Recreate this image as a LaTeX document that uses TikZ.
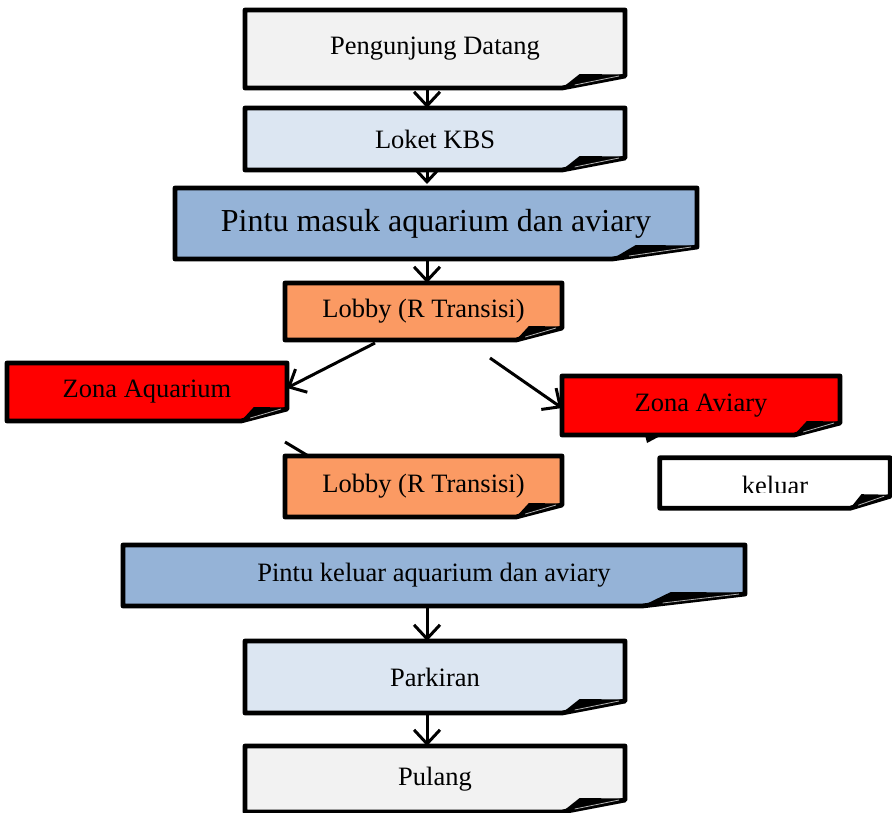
\documentclass[tikz,border=0pt]{standalone}
\usepackage{fontspec}
\setmainfont{Liberation Serif}
\usetikzlibrary{arrows.meta,backgrounds}
\definecolor{cgray}{HTML}{F2F2F2}
\definecolor{clblue}{HTML}{DCE6F2}
\definecolor{cmblue}{HTML}{95B3D7}
\definecolor{corange}{HTML}{FB9A63}
\definecolor{cred}{HTML}{FF0000}
\tikzset{
  nb/.style={inner sep=0pt, outer sep=0pt, font=\fontsize{26.5}{30}\selectfont},
  outl/.style={draw=black, line width=4.8pt, line join=round},
  flow/.style={draw=black, line width=3pt, -{Straight Barb[length=14pt,width=26pt,line width=3pt]}},
  plainline/.style={draw=black, line width=3pt},
}
\newcommand\foldbox[3]{%
  \path[outl, fill=#2] (#1.north west) -- (#1.north east) -- ([yshift=12pt]#1.south east)
     -- ([xshift=-#3]#1.south east) -- (#1.south west) -- cycle;
  \fill[black] ([xshift=-#3]#1.south east) -- ([xshift=-#3*0.72, yshift=14pt]#1.south east)
     -- ([yshift=13.5pt]#1.south east) -- ([yshift=11pt]#1.south east) -- cycle;
  \draw[gray!60, line width=0.8pt] ([xshift=-#3*0.8, yshift=3pt]#1.south east) -- ([xshift=-6pt, yshift=12pt]#1.south east);
}
\begin{document}
\begin{tikzpicture}[x=1pt,y=-1pt]
\useasboundingbox (0,0) rectangle (892,812);
\coordinate (ax) at (427,0);
% nodes (text)
\node[nb, minimum width=380pt, minimum height=78pt] (n1) at (435,49) {\raisebox{1.5pt}{Pengunjung Datang}};
\node[nb, minimum width=380pt, minimum height=62pt] (n2) at (435,139) {Loket KBS};
\node[nb, minimum width=522pt, minimum height=71pt, font=\fontsize{32}{36}\selectfont] (n3) at (436,223.5) {Pintu masuk aquarium dan aviary};
\node[nb, minimum width=277pt, minimum height=57pt] (n4) at (423.5,311.5) {Lobby (R Transisi)};
\node[nb, minimum width=280pt, minimum height=58pt] (n5) at (147,392) {\raisebox{-1.5pt}{Zona Aquarium}};
\node[nb, minimum width=278pt, minimum height=59pt] (n6) at (701,405.5) {\raisebox{-1.5pt}{Zona Aviary}};
\begin{scope}
  \clip (655,450) rectangle (895,492.5);
  \node[nb, minimum width=230pt, minimum height=50pt, anchor=base] (n7t) at (775,494) {keluar};
\end{scope}
\node[minimum width=230pt, minimum height=50pt, inner sep=0pt] (n7) at (775,483) {};
\node[nb, minimum width=277pt, minimum height=61pt] (n8) at (423.5,486.5) {Lobby (R Transisi)};
\node[nb, minimum width=622pt, minimum height=61pt] (n9) at (434,575.5) {Pintu keluar aquarium dan aviary};
\node[nb, minimum width=380pt, minimum height=72pt] (n10) at (435,677) {Parkiran};
\node[nb, minimum width=380pt, minimum height=66pt] (n11) at (435,779) {Pulang};
\begin{scope}[on background layer]
  % connectors (under boxes)
  \draw[flow] (n1.south -| ax) -- (n2.north -| ax);
  \draw[flow] (n2.south -| ax) -- ([yshift=4pt]n3.north -| ax);
  \draw[flow] (n3.south -| ax) -- (n4.north -| ax);
  \draw[flow] ([xshift=-48.5pt, yshift=-3pt]n4.south) -- ([yshift=4pt]n5.east);
  \draw[flow] ([xshift=66.5pt, yshift=-18pt]n4.south) -- ([yshift=-2.5pt]n6.west);
  \draw[plainline] ([xshift=-2pt, yshift=-21pt]n5.south east) -- ([xshift=45pt, yshift=-13pt]n8.north west);
  \draw[flow] (n9.south -| ax) -- (n10.north -| ax);
  \draw[flow] (n10.south -| ax) -- (n11.north -| ax);
  % boxes
  \foldbox{n1}{cgray}{63pt}
  \foldbox{n2}{clblue}{63pt}
  \foldbox{n3}{cmblue}{85pt}
  \foldbox{n4}{corange}{46pt}
  \foldbox{n5}{cred}{46pt}
  \foldbox{n6}{cred}{46pt}
  \fill[black] ([xshift=-56pt]n6.south) -- ([xshift=-39pt]n6.south) -- ([xshift=-54pt, yshift=-8pt]n6.south) -- cycle;
  \foldbox{n7}{white}{40pt}
  \foldbox{n8}{corange}{46pt}
  \foldbox{n9}{cmblue}{103pt}
  \foldbox{n10}{clblue}{63pt}
  \foldbox{n11}{cgray}{63pt}
\end{scope}
\end{tikzpicture}
\end{document}
